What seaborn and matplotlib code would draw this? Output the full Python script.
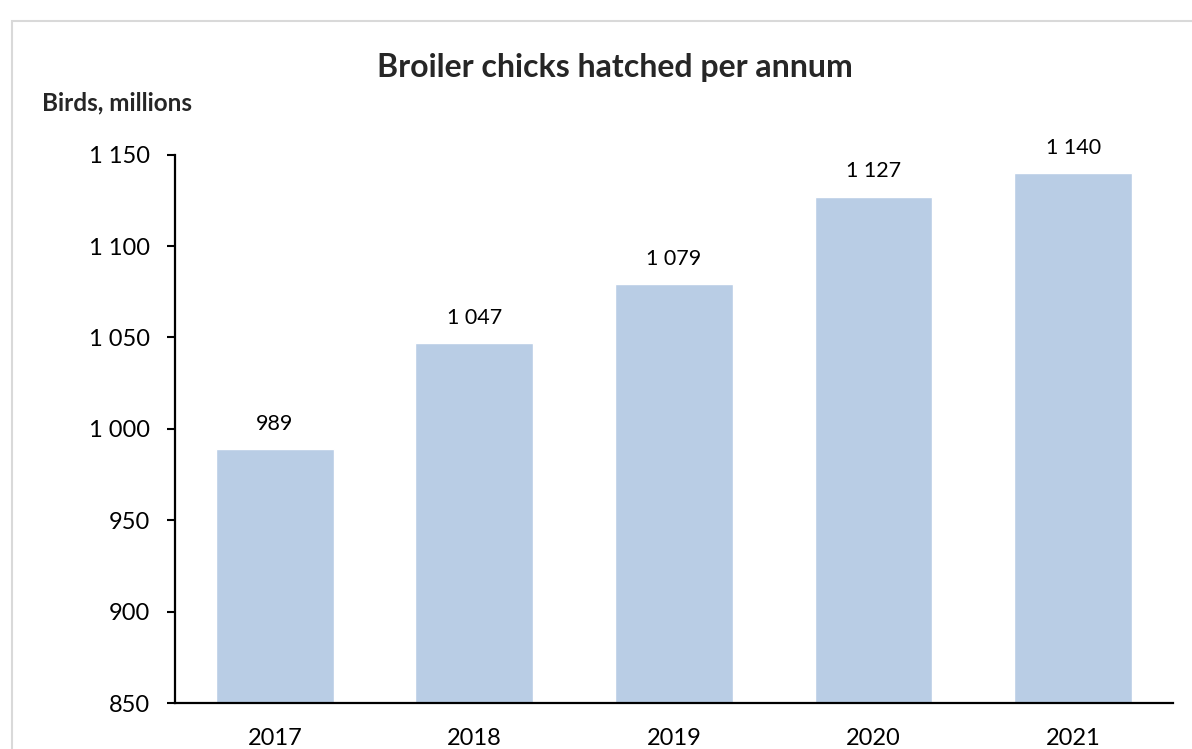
import numpy as np
import pandas as pd
import seaborn as sns
import matplotlib.pyplot as plt
from matplotlib.patches import Rectangle
from matplotlib.ticker import FuncFormatter

years = ["2017", "2018", "2019", "2020", "2021"]
birds = [989, 1047, 1079, 1127, 1140]
y_ticks = [850, 900, 950, 1000, 1050, 1100, 1150]

def space_thousands(v, pos=None):
    return "{:,.0f}".format(v).replace(",", " ")

sns.set_theme(style="white")
plt.rcParams['font.family'] = ['Lato', 'DejaVu Sans']

df = pd.DataFrame({"year": years, "birds": birds})

fig = plt.figure(figsize=(11.92, 7.49), dpi=100)
ax = fig.add_axes([0.1468, 0.0614, 0.984 - 0.1468, 0.7935 - 0.0614])

sns.barplot(data=df, x="year", y="birds", color="#B9CDE5", saturation=1,
            width=0.59, ax=ax)

ax.set_ylim(850, 1150)
ax.set_yticks(y_ticks)
ax.yaxis.set_major_formatter(FuncFormatter(space_thousands))
ax.set_xlabel("")
ax.set_ylabel("")

for s in ["top", "right"]:
    ax.spines[s].set_visible(False)
for s in ["left", "bottom"]:
    ax.spines[s].set_color("black")
    ax.spines[s].set_linewidth(1.6)

ax.tick_params(axis="y", left=True, length=6, width=1.5, color="black",
               labelsize=17, pad=12, labelcolor="black")
ax.tick_params(axis="x", bottom=False, labelsize=17, pad=12, labelcolor="black")

ax.bar_label(ax.containers[0], labels=[space_thousands(v) for v in birds],
             padding=11, fontsize=15.5, color="black")

fig.text(0.516, 1 - 67 / 749, "Broiler chicks hatched per annum",
         ha="center", va="center", fontsize=23, fontweight="bold")
fig.text(42 / 1192, 1 - 103 / 749, "Birds, millions",
         ha="left", va="center", fontsize=17.5, fontweight="bold")

# outer chart frame
fig.patches.append(Rectangle((11.5 / 1192, -0.1), 1.2, 1.1 - 20.5 / 749,
                             transform=fig.transFigure, fill=False,
                             edgecolor="#D9D9D9", linewidth=1.5))

fig.savefig("out.png", dpi=100)
